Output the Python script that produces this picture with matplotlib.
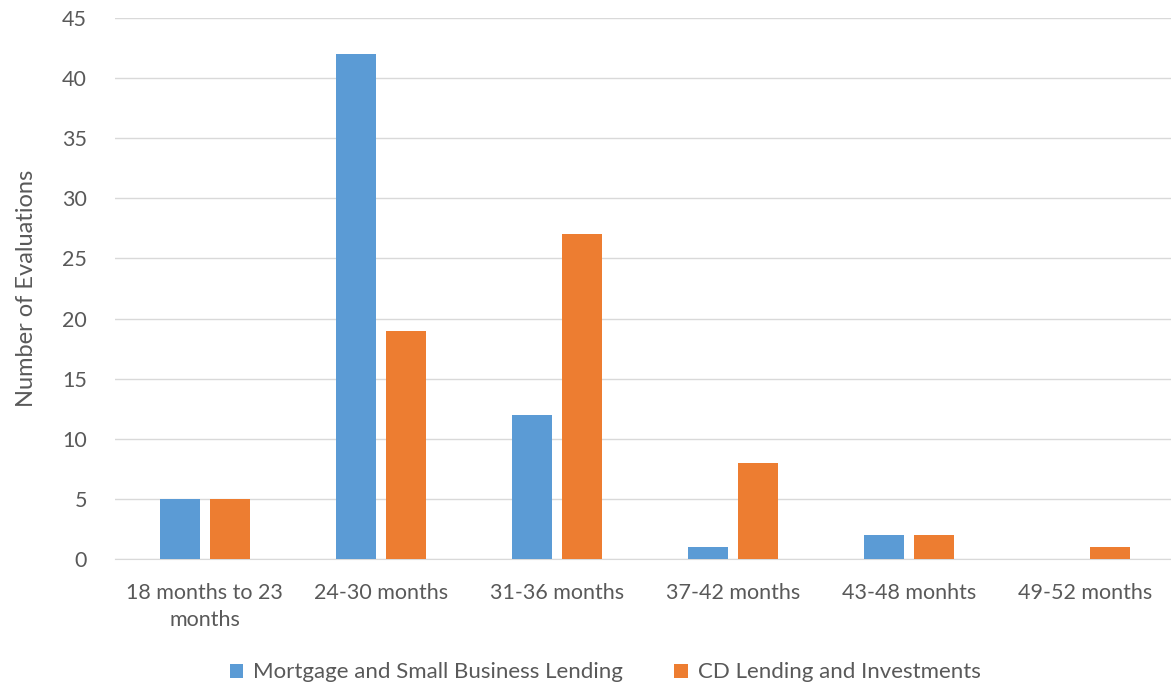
import matplotlib.pyplot as plt
import numpy as np

categories = ["18 months to 23\nmonths", "24-30 months", "31-36 months",
              "37-42 months", "43-48 monhts", "49-52 months"]
mortgage = [5, 42, 12, 1, 2, 0]
cd_lending = [5, 19, 27, 8, 2, 1]

plt.rcParams['font.family'] = ['Lato', 'DejaVu Sans']
text_col = '#595959'

fig = plt.figure(figsize=(11.71, 6.88), dpi=100)
ax = fig.add_axes([0.098, 0.1875, 0.902, 0.7865])

x = np.arange(len(categories))
w = 0.227
ax.bar(x - 0.13, mortgage, w, color='#5B9BD5', label='Mortgage and Small Business Lending', zorder=3)
ax.bar(x + 0.155, cd_lending, w, color='#ED7D31', label='CD Lending and Investments', zorder=3)

ax.set_xlim(-0.5, 5.5)
ax.set_ylim(0, 45)
ax.set_yticks(range(0, 46, 5))
ax.set_xticks(x + 0.012)
ax.set_xticklabels(categories, fontsize=15.5, color=text_col, linespacing=1.45)
ax.tick_params(axis='y', labelsize=15.5, labelcolor=text_col, length=0, pad=20)
ax.tick_params(axis='x', length=0, pad=17)
ax.grid(axis='y', color='#D9D9D9', linewidth=1, zorder=0)
for s in ['top', 'right', 'left']:
    ax.spines[s].set_visible(False)
ax.spines['bottom'].set_color('#D9D9D9')

ax.set_ylabel('Number of Evaluations', fontsize=17, color=text_col, labelpad=18)

leg = fig.legend(loc='lower center', bbox_to_anchor=(0.517, -0.021), ncol=2, frameon=False,
                 fontsize=16, handlelength=0.6, handleheight=0.6, columnspacing=2.3,
                 handletextpad=0.45)
for t in leg.get_texts():
    t.set_color(text_col)

fig.savefig('out.png', dpi=100)
